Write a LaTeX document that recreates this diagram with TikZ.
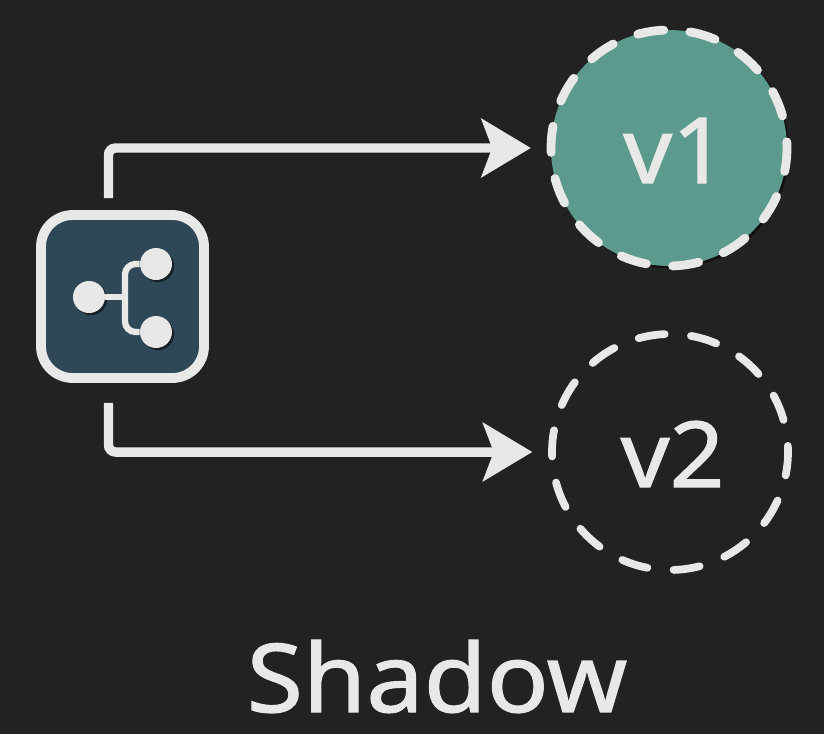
\documentclass[tikz,border=0pt]{standalone}
\usepackage{fontspec}
\setmainfont{Noto Sans}
\newfontfamily\labelfont[AutoFakeBold=1.3,FakeStretch=1.05]{Noto Sans}
\newfontfamily\captionfont[AutoFakeBold=1.3,FakeStretch=1.08]{Noto Sans}
\usetikzlibrary{arrows.meta,shadows}
\definecolor{bgdark}{HTML}{222222}
\definecolor{linelight}{HTML}{E8E8E6}
\definecolor{tealfill}{HTML}{5B9A8C}
\definecolor{slatefill}{HTML}{2F4858}
\tikzset{
  softshadow/.style={drop shadow={shadow xshift=1.2pt,shadow yshift=-1.2pt,fill=black,opacity=0.55}},
  versionnode/.style={circle,draw=linelight,line width=5pt,line cap=round,minimum size=4.72cm,inner sep=0pt,
    dash pattern=on 15pt off 15pt,dash phase=11.5pt,text=linelight,text height=40pt,font=\labelfont\bfseries\fontsize{52}{52}\selectfont},
  flow/.style={draw=linelight,line width=5.4pt,rounded corners=4pt,-{Stealth[length=28pt,width=33pt,inset=6pt]}},
  dot/.style={circle,fill=linelight,minimum size=0.64cm,inner sep=0pt},
  branch/.style={draw=linelight,line width=3.6pt,rounded corners=6pt},
}
\begin{document}
\begin{tikzpicture}[x=0.02cm,y=-0.02cm]
  \fill[bgdark] (0,0) rectangle (824,734);
  \useasboundingbox (0,0) rectangle (824,734);

  % Router box
  \node[draw=linelight,fill=slatefill,line width=5.6pt,rounded corners=18pt,minimum size=3.26cm,softshadow] (router) at (122.5,296.5) {};

  % Icon inside the box
  \node[dot,softshadow] (src) at (89,297) {};
  \node[dot,softshadow] (top) at (156,264) {};
  \node[dot,softshadow] (bot) at (156,332) {};
  \coordinate (fork) at (125,297);
  \draw[branch] (fork) |- (top);
  \draw[branch] (fork) |- (bot);
  \draw[branch] (src) -- (fork);

  % Versions
  \node[versionnode,fill=tealfill,softshadow] (v1) at (669,148) {\kern7pt v1};
  \node[versionnode,line width=4.4pt] (v2) at (670,452) {\kern3pt v2};

  % Connectors
  \draw[flow,shorten >=9pt] ([xshift=-0.28cm,yshift=0.24cm]router.north) |- (v1);
  \draw[flow,shorten >=9pt] ([xshift=-0.28cm,yshift=-0.4cm]router.south) |- (v2);

  % Caption
  \node[text=linelight,anchor=base,font=\captionfont\bfseries\fontsize{54}{54}\selectfont] (caption) at (437,712) {Shadow};
\end{tikzpicture}
\end{document}
